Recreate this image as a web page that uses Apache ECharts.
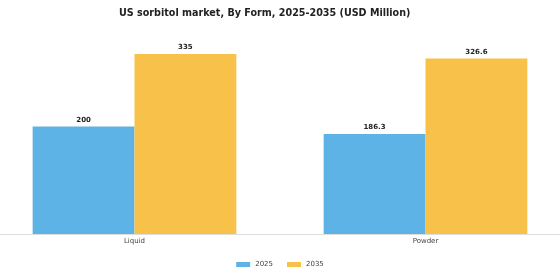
<!DOCTYPE html>
<html>
<head>
<meta charset="utf-8">
<script src="https://cdn.jsdelivr.net/npm/echarts@6/dist/echarts.min.js"></script>
<style>
  html, body { margin: 0; padding: 0; background: #ffffff; }
  #chart { width: 560px; height: 280px; }
</style>
</head>
<body>
<div id="chart"></div>
<script>
// data
const categories = ['Liquid', 'Powder'];
const years = ['2025', '2035'];
const values2025 = [200, 186.3];
const values2035 = [335, 326.6];

const colors = ['#5db3e6', '#f8c24a'];

const chart = echarts.init(document.getElementById('chart'));

const labelStyle = {
  show: true,
  position: 'top',
  fontFamily: 'DejaVu Sans',
  fontSize: 7,
  fontWeight: 'bold',
  color: '#222222',
  distance: 3,
};

chart.setOption({
  animation: false,
  backgroundColor: '#ffffff',
  title: {
    text: 'US sorbitol market, By Form, 2025-2035 (USD Million)',
    left: 114,
    top: 3,
    textStyle: {
      fontFamily: 'DejaVu Sans',
      fontSize: 9.6,
      fontWeight: 'bold',
      color: '#222222',
    },
  },
  legend: {
    data: years,
    bottom: 7,
    left: 'center',
    itemWidth: 14,
    itemHeight: 5,
    itemGap: 14,
    icon: 'rect',
    textStyle: {
      fontFamily: 'DejaVu Sans',
      fontSize: 7,
      color: '#444444',
    },
  },
  grid: {
    left: -11,
    right: -11,
    top: 46,
    bottom: 46,
    containLabel: false,
    outerBoundsMode: 'none',
  },
  xAxis: {
    type: 'category',
    data: categories,
    axisLine: { lineStyle: { color: '#dddddd' } },
    axisTick: { alignWithLabel: true, length: 3, lineStyle: { color: '#999999' } },
    axisLabel: {
      fontFamily: 'DejaVu Sans',
      fontSize: 7,
      color: '#444444',
      margin: 4,
    },
  },
  yAxis: {
    type: 'value',
    min: 0,
    max: 350,
    show: false,
    splitLine: { show: false },
  },
  series: [
    {
      name: years[0],
      type: 'bar',
      data: values2025,
      itemStyle: { color: colors[0] },
      barGap: '0%',
      barCategoryGap: '30%',
      label: labelStyle,
    },
    {
      name: years[1],
      type: 'bar',
      data: values2035,
      itemStyle: { color: colors[1] },
      barGap: '0%',
      barCategoryGap: '30%',
      label: labelStyle,
    },
  ],
});
</script>
</body>
</html>
